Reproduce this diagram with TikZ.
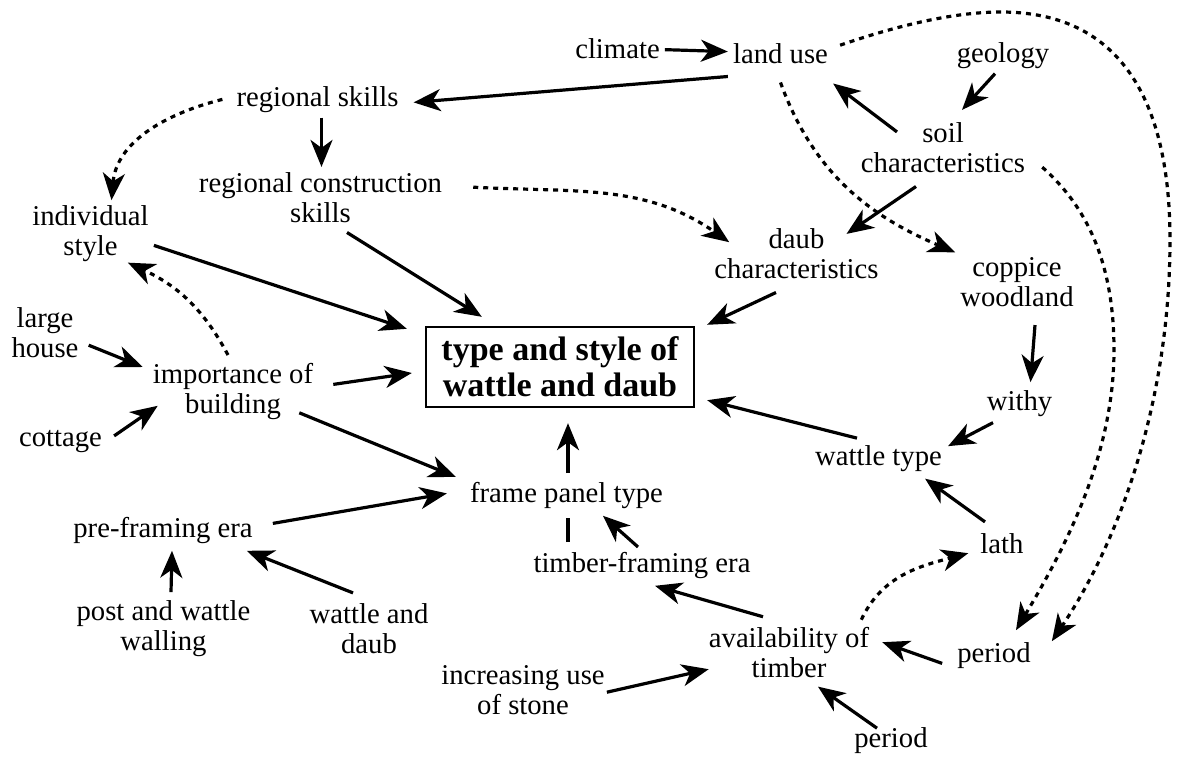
\documentclass[tikz,border=0pt]{standalone}
\usepackage{fontspec}
\setmainfont{Liberation Serif}
\usetikzlibrary{arrows.meta}

\begin{document}
\begin{tikzpicture}[x=1pt, y=1pt,
    lbl/.style={inner sep=5pt, align=center, font=\fontsize{28.7}{30}\selectfont},
    arr/.style={line width=3.2pt, -{Stealth[length=27pt, width=22pt, inset=8pt]}},
    dots/.style={arr, dash pattern=on 5pt off 5pt}]

  % 画布范围：与原图 1179 x 757 相同
  \useasboundingbox (0,0) rectangle (1179,-757);

  % 1. 中心方框
  \node[draw, line width=2.4pt, minimum width=268pt, minimum height=80pt, inner sep=0pt,
        align=center, font=\fontsize{34}{36}\selectfont\bfseries]
        (box) at (560,-367) {type and style of\\wattle and daub};

  % 2. 各个因素（文字中心坐标）
  \node[lbl] (climate) at (617.5,-48.2) {climate};
  \node[lbl] (luse) at (780.5,-53.2) {land use};
  \node[lbl] (geology) at (1003,-55.4) {geology};
  \node[lbl] (rskills) at (317.5,-99.4) {regional skills};
  \node[lbl] (soil) at (943,-147.2) {soil\\characteristics};
  \node[lbl] (rcskills) at (320.5,-197.2) {regional construction\\skills};
  \node[lbl] (indiv) at (90.5,-233.4) {individual\\style};
  \node[lbl] (daub) at (796.5,-253.2) {daub\\characteristics};
  \node[lbl] (coppice) at (1017,-282.2) {coppice\\woodland};
  \node[lbl] (large) at (45,-332.2) {large\\house};
  \node[lbl] (import) at (233,-391.4) {importance of\\building};
  \node[lbl] (cottage) at (60.5,-441.9) {cottage};
  \node[lbl] (withy) at (1019.5,-403.4) {withy};
  \node[lbl] (wtype) at (878.5,-458.4) {wattle type};
  \node[lbl] (frame) at (566.5,-495.4) {frame panel type};
  \node[lbl] (preframe) at (163,-530.4) {pre-framing era};
  \node[lbl] (lath) at (1002,-543.2) {lath};
  \node[lbl] (timber) at (642,-565.4) {timber-framing era};
  \node[lbl] (post) at (163.5,-628.4) {post and wattle\\walling};
  \node[lbl] (wdaub) at (369,-628.2) {wattle and\\daub};
  \node[lbl] (avail) at (789,-652.2) {availability of\\timber};
  \node[lbl] (periodr) at (994,-655.4) {period};
  \node[lbl] (stone) at (523,-690.2) {increasing use\\of stone};
  \node[lbl] (periodb) at (891,-740.4) {period};

  % 3. 实线箭头
  \draw[arr] (climate) -- (luse);
  \draw[arr] ([yshift=-8pt]luse.south west) -- ([shift={(10,-3)}]rskills.east);
  \draw[arr] ([xshift=-8pt]geology.south) -- ([shift={(19,7)}]soil.north);
  \draw[arr] ([shift={(-46,-15)}]soil.north) -- ([yshift=-15pt]luse.south east);
  \draw[arr] ([shift={(-27,-9)}]soil.south) -- ([shift={(50,-11)}]daub.north);
  \draw[arr] ([xshift=4pt]rskills.south) -- ([xshift=1pt]rcskills.north);
  \draw[arr] ([shift={(26.5,-5)}]rcskills.south) -- ([shift={(57,9)}]box.north west);
  \draw[arr] ([yshift=-12pt]indiv.east) -- ([shift={(-18,-3)}]box.north west);
  \draw[arr] ([shift={(5,-13)}]large.east) -- ([shift={(-5,-9)}]import.north west);
  \draw[arr] ([shift={(7,6)}]cottage.east) -- ([shift={(10,19)}]import.south west);
  \draw[arr] ([shift={(15,7)}]import.east) -- ([shift={(-13,-6)}]box.west);
  \draw[arr] ([shift={(-19,12)}]import.south east) -- ([xshift=-9pt]frame.north west);
  \draw[arr] ([shift={(15,7)}]preframe.east) -- ([shift={(-18,2)}]frame.west);
  \draw[arr] ([shift={(7.5,3)}]post.north) -- ([shift={(9,-2)}]preframe.south);
  \draw[arr] ([shift={(-16,5)}]wdaub.north) -- ([shift={(-11,-2)}]preframe.south east);
  \draw[arr] ([shift={(1.5,4)}]frame.north) -- ([shift={(8,-15)}]box.south);
  \draw[line width=3.2pt] ([shift={(-74,5)}]timber.north) -- ([shift={(1.5,-4)}]frame.south);
  \draw[arr] ([xshift=-4pt]timber.north) -- ([shift={(36.5,-2)}]frame.south);
  \draw[arr] ([shift={(-26,5)}]avail.north) -- ([shift={(13,-2)}]timber.south);
  \draw[arr] ([shift={(-17,6)}]lath.north) -- ([shift={(-22,-2)}]wtype.south east);
  \draw[arr] ([shift={(-26.5,-1)}]withy.south) -- ([shift={(1,-6)}]wtype.north east);
  \draw[arr] ([shift={(18,-13)}]coppice.south) -- ([shift={(11,3)}]withy.north);
  \draw[arr] ([shift={(-21.5,2)}]wtype.north) -- ([shift={(12,8)}]box.south east);
  \draw[arr] ([shift={(-20.5,-9)}]daub.south) -- ([shift={(12,1)}]box.north east);
  \draw[arr] ([shift={(-3,-2)}]stone.east) -- ([shift={(5,-17)}]avail.west);
  \draw[arr] ([shift={(-10,-8)}]periodr.west) -- ([shift={(8,10)}]avail.east);
  \draw[arr] ([shift={(-14,-6)}]periodb.north) -- ([shift={(29,-4)}]avail.south);

  % 4. 虚线箭头
  \draw[dots] ([yshift=-14pt]luse.south) to[out=-70,in=157] (coppice.north west);
  \draw[dots] ([shift={(7,8)}]luse.east) .. controls (890,-28) and (950,-12) .. (1001,-12)
    .. controls (1120,-12) and (1170,-100) .. (1170,-240)
    .. controls (1170,-400) and (1120,-540) .. ([shift={(16,-4)}]periodr.north east);
  \draw[dots] ([shift={(12,-20)}]soil.east) .. controls (1085,-205) and (1114,-260) .. (1114,-350)
    .. controls (1114,-450) and (1070,-540) .. ([shift={(22,7)}]periodr.north);
  \draw[dots] ([xshift=-9pt]rskills.west) to[out=194,in=85] ([xshift=21pt]indiv.north);
  \draw[dots] ([shift={(26,10)}]rcskills.east) to[out=-3,in=145] ([shift={(20,11)}]daub.west);
  \draw[dots] ([shift={(-5,3)}]import.north) to[out=118,in=-25] ([shift={(-26,4)}]indiv.south east);
  \draw[dots] ([shift={(-13,2)}]avail.north east) to[out=65,in=195] ([shift={(-7,-10)}]lath.west);

\end{tikzpicture}
\end{document}
